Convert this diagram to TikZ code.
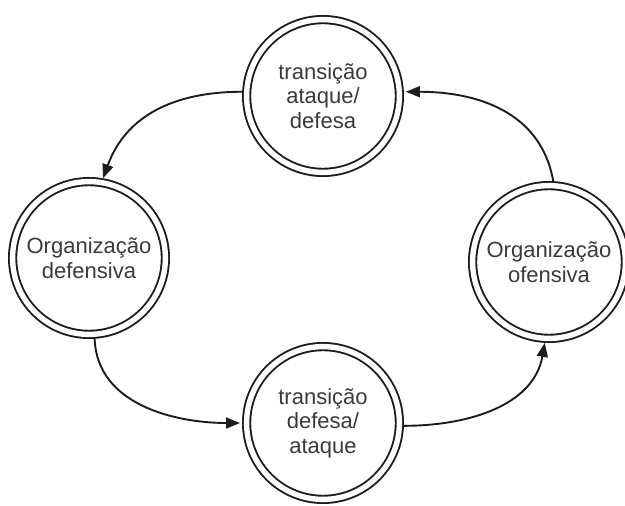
\documentclass[tikz,border=0pt]{standalone}
\usepackage{fontspec}
\setmainfont{Liberation Sans}
\usetikzlibrary{arrows.meta}
\definecolor{ink}{HTML}{1C1C1C}
\definecolor{txt}{HTML}{3A3A3A}
\begin{document}
\begin{tikzpicture}[x=1pt,y=1pt,
  state/.style={circle, draw=ink, double, double distance=5.4pt, line width=1.9pt,
    minimum size=152.8pt, inner sep=0pt, outer sep=4.6pt, align=center,
    font=\fontsize{22}{24.5}\selectfont, text=txt},
  flow/.style={draw=ink, line width=1.9pt, -{Triangle[length=14pt,width=11pt]}}]
\useasboundingbox (0,0) rectangle (625,506);
% the four phases of the game cycle
\node[state] (top)    at (323,410) {transição\\ataque/\\defesa};
\node[state] (left)   at (89,248)  {Organização\\defensiva};
\node[state] (right)  at (549,244) {Organização\\ofensiva};
\node[state] (bottom) at (323,83)  {transição\\defesa/\\ataque};
% transitions between phases
\draw[flow] (top.177) to[out=180,in=70,looseness=1.05] (left.80);
\draw[flow, shorten >=2pt] (left.-86) to[out=-88,in=180] (bottom.180);
\draw[flow] (bottom.-2) to[out=0,in=-100] (right.-93);
\draw[flow, shorten >=2pt] (right.87) to[out=100,in=0,looseness=1.05] (top.3);
\end{tikzpicture}
\end{document}
